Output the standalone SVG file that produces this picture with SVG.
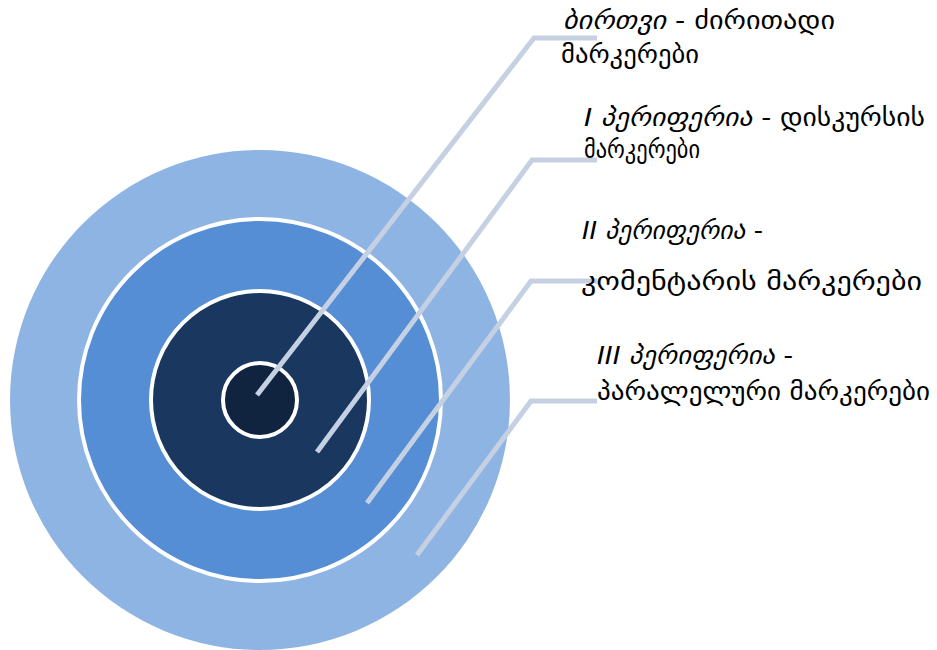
<svg xmlns="http://www.w3.org/2000/svg" width="937" height="650" viewBox="0 0 937 650">
<style>
.lbl{font-family:"DejaVu Sans","Noto Sans",sans-serif;font-size:25px;fill:#000}
.it{font-style:italic}
.conn{fill:none;stroke:#C5D0E3;stroke-width:5;stroke-linejoin:miter}
.ring{stroke:#fff;stroke-width:4}
</style>
<rect width="937" height="650" fill="#fff"/>
<g id="ring3">
<circle cx="260" cy="400" r="250" fill="#8EB4E3"/>
</g>
<g id="ring2">
<circle class="ring" cx="260" cy="400" r="181" fill="#558ED5"/>
</g>
<g id="ring1">
<circle class="ring" cx="260" cy="400" r="109" fill="#1A375F"/>
</g>
<g id="core">
<circle class="ring" cx="260" cy="400" r="37" fill="#10233F"/>
</g>
<g id="connectors">
<polyline class="conn" points="257,395 534,38 597,38"/>
<polyline class="conn" points="317,452 532,160 597,160"/>
<polyline class="conn" points="367,503 531,281 597,281"/>
<polyline class="conn" points="417,555 531,401 597,401"/>
</g>
<g id="label-core">
<text class="lbl" x="563" y="29" textLength="272" lengthAdjust="spacingAndGlyphs"><tspan class="it">ბირთვი</tspan> - ძირითადი</text>
<text class="lbl" x="561" y="63" textLength="138" lengthAdjust="spacingAndGlyphs">მარკერები</text>
</g>
<g id="label-p1">
<text class="lbl" x="584" y="126" textLength="341" lengthAdjust="spacingAndGlyphs"><tspan class="it">I პერიფერია</tspan> - დისკურსის</text>
<text class="lbl" x="584" y="158" textLength="116" lengthAdjust="spacingAndGlyphs">მარკერები</text>
</g>
<g id="label-p2">
<text class="lbl" x="582" y="239" textLength="181" lengthAdjust="spacingAndGlyphs"><tspan class="it">II პერიფერია</tspan> -</text>
<text class="lbl" x="581" y="290" textLength="341" lengthAdjust="spacingAndGlyphs">კომენტარის მარკერები</text>
</g>
<g id="label-p3">
<text class="lbl" x="597" y="364" textLength="196" lengthAdjust="spacingAndGlyphs"><tspan class="it">III პერიფერია</tspan>  -</text>
<text class="lbl" x="597" y="400" textLength="333" lengthAdjust="spacingAndGlyphs">პარალელური მარკერები</text>
</g>
</svg>
